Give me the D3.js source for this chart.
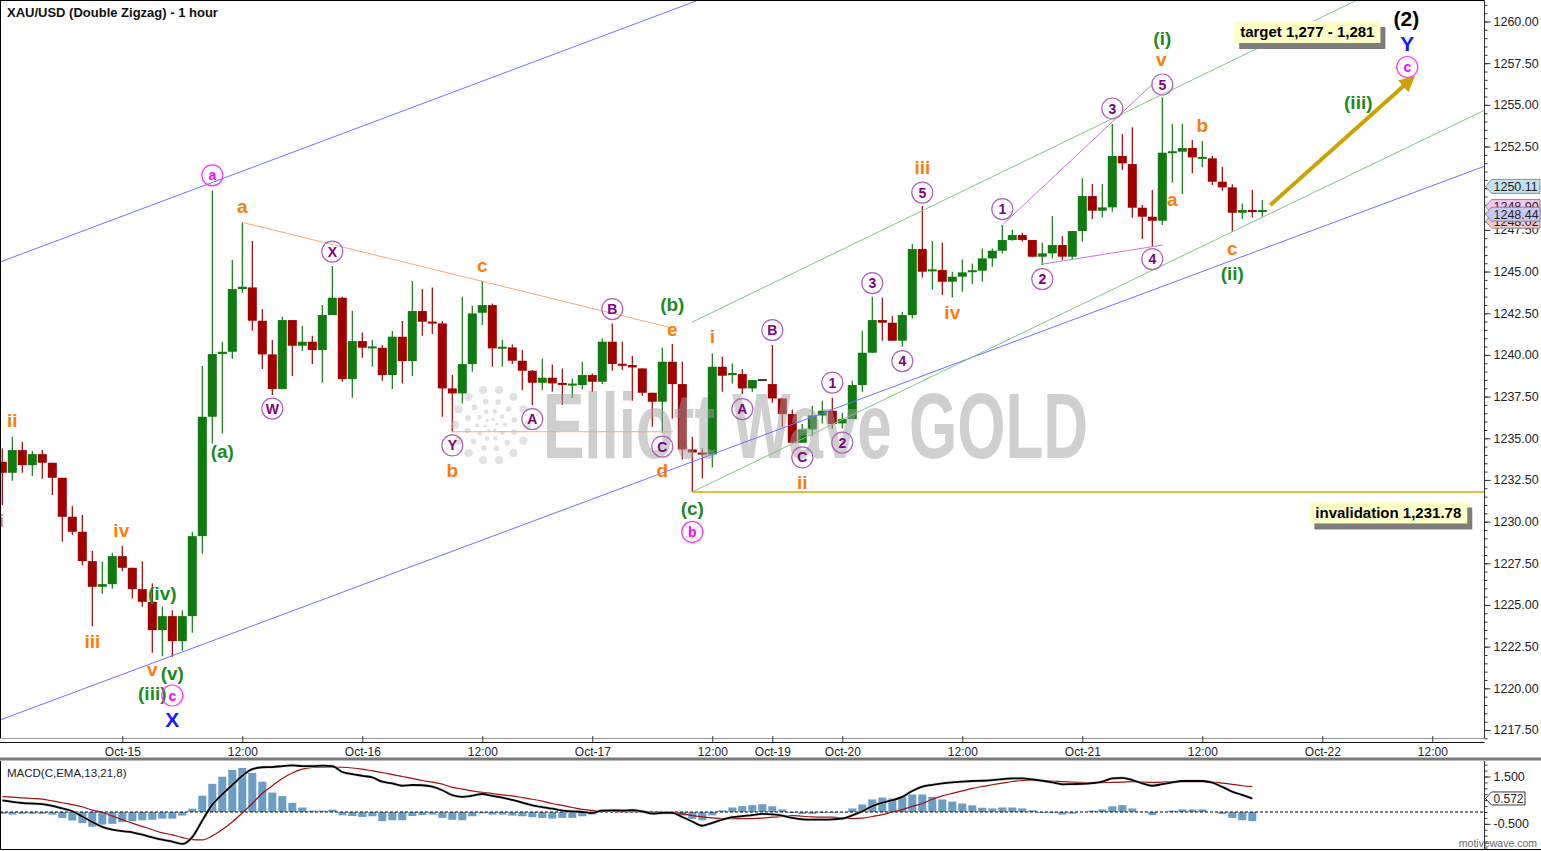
<!DOCTYPE html>
<html><head><meta charset="utf-8">
<script src="https://cdn.jsdelivr.net/npm/d3@7"></script>
<style>html,body{margin:0;padding:0;background:#fff;overflow:hidden}svg{display:block}</style>
</head><body>
<svg id="chart" width="1541" height="851"></svg>
<script>
// ---------------- DATA ----------------
const chartTitle = "XAU/USD (Double Zigzag) - 1 hour";
const openP = [1233.59,1232.93,1234.29,1233.39,1234.05,1233.53,1232.63,1230.29,1229.39,1227.63,
1226.09,1226.25,1227.93,1227.23,1225.95,1225.19,1223.49,1224.33,1222.83,1224.33,
1229.13,1236.29,1240.05,1240.19,1243.95,1244.05,1242.05,1240.03,1237.95,1242.09,
1240.55,1240.79,1240.29,1242.39,1243.43,1238.55,1240.83,1240.43,1240.43,1238.79,
1241.09,1239.63,1242.63,1241.99,1241.89,1237.99,1237.69,1239.45,1242.53,1242.99,
1240.39,1240.45,1239.65,1239.05,1238.33,1238.63,1238.29,1238.19,1238.19,1238.79,
1238.39,1240.79,1239.45,1239.39,1239.19,1237.73,1237.19,1239.59,1238.25,1234.33,
1234.13,1234.03,1239.29,1238.81,1238.85,1237.99,1238.49,1238.25,1237.39,1236.45,
1234.73,1235.53,1236.37,1236.65,1235.89,1236.15,1238.19,1240.13,1242.09,1241.93,
1240.85,1242.39,1246.35,1245.03,1245.09,1244.39,1244.69,1244.99,1245.05,1245.79,
1246.25,1246.89,1247.19,1246.89,1245.89,1246.09,1246.59,1245.89,1247.43,1249.53,
1248.65,1248.85,1251.93,1251.45,1248.83,1248.29,1248.05,1252.13,1252.19,1252.41,
1251.79,1251.79,1250.39,1250.05,1248.53,1248.69,1248.57];
const highP = [1234.39,1235.09,1234.77,1234.23,1234.29,1233.53,1232.63,1230.93,1230.39,1228.23,
1227.59,1228.13,1228.53,1227.23,1227.63,1226.30,1224.89,1224.69,1224.69,1229.39,
1239.33,1249.85,1240.79,1245.69,1247.95,1246.83,1242.75,1240.89,1242.29,1242.09,
1241.73,1241.15,1242.99,1245.33,1243.49,1242.63,1241.35,1240.89,1240.59,1241.43,
1242.03,1244.43,1243.95,1244.05,1242.03,1238.79,1243.49,1242.95,1244.45,1243.09,
1240.89,1240.63,1240.29,1239.09,1239.79,1239.43,1239.19,1238.59,1239.59,1238.89,
1240.99,1241.89,1240.79,1239.93,1239.19,1237.73,1240.45,1240.65,1239.59,1235.09,
1234.39,1240.09,1239.89,1239.49,1239.15,1238.49,1238.49,1240.59,1237.39,1236.73,
1235.85,1236.93,1237.25,1237.43,1236.53,1238.45,1241.43,1243.49,1243.43,1242.33,
1242.59,1246.65,1248.93,1246.83,1246.73,1244.99,1245.73,1245.49,1246.39,1246.39,
1247.79,1247.49,1247.33,1246.89,1246.73,1248.33,1247.13,1247.43,1250.59,1250.25,
1250.25,1253.85,1253.25,1253.65,1248.99,1249.89,1255.45,1253.85,1253.85,1252.89,
1252.83,1251.93,1251.29,1250.23,1249.09,1249.89,1249.29];
const lowP = [1230.99,1232.45,1232.93,1232.73,1232.57,1231.59,1228.79,1229.19,1227.39,1223.73,
1225.67,1225.97,1227.03,1225.39,1224.89,1222.13,1221.93,1221.89,1222.25,1223.33,
1228.09,1234.69,1235.29,1239.75,1243.73,1241.45,1239.15,1237.59,1237.95,1238.73,
1240.23,1239.45,1238.33,1242.39,1238.39,1237.43,1239.83,1239.29,1238.45,1237.95,
1238.29,1238.73,1241.15,1241.25,1236.29,1235.39,1237.09,1238.99,1241.79,1239.29,
1239.29,1239.45,1237.89,1236.99,1237.89,1237.79,1236.99,1237.43,1237.93,1237.79,
1238.25,1239.05,1239.09,1237.25,1237.53,1235.69,1235.33,1236.19,1233.73,1231.78,
1232.59,1233.25,1237.79,1238.29,1237.65,1237.79,1238.49,1237.13,1235.69,1234.73,
1234.73,1235.13,1235.89,1235.59,1235.59,1236.15,1237.79,1240.13,1240.85,1240.85,
1240.49,1242.19,1244.65,1243.93,1243.59,1243.45,1243.79,1244.25,1244.39,1245.29,
1246.09,1246.85,1246.79,1245.89,1245.39,1245.79,1245.69,1245.73,1246.79,1248.15,
1248.25,1248.59,1251.09,1248.23,1246.95,1246.53,1247.79,1250.33,1249.65,1250.89,
1251.25,1250.19,1249.85,1247.39,1248.15,1248.25,1248.29];
const closeP = [1232.93,1234.29,1233.39,1234.05,1233.53,1232.63,1230.29,1229.39,1227.63,1226.09,
1226.25,1227.93,1227.23,1225.95,1225.19,1223.49,1224.33,1222.83,1224.33,1229.13,
1236.29,1240.05,1240.19,1243.95,1244.09,1242.05,1240.03,1237.95,1242.09,1240.55,
1240.79,1240.29,1242.39,1243.43,1238.55,1240.83,1240.43,1240.47,1238.79,1241.09,
1239.63,1242.63,1241.99,1241.89,1237.99,1237.69,1239.45,1242.49,1242.99,1240.39,
1240.47,1239.65,1239.05,1238.33,1238.63,1238.29,1238.23,1238.25,1238.79,1238.39,
1240.79,1239.45,1239.37,1239.25,1237.73,1237.19,1239.59,1238.25,1234.33,1234.15,
1234.03,1239.29,1238.75,1238.89,1237.99,1238.49,1238.49,1237.39,1236.45,1234.73,
1235.53,1236.37,1236.65,1235.85,1236.15,1238.19,1240.13,1242.09,1241.93,1240.85,
1242.39,1246.35,1244.99,1245.11,1244.39,1244.69,1244.95,1245.05,1245.79,1246.25,
1246.89,1247.19,1246.89,1245.89,1246.09,1246.59,1245.89,1247.43,1249.53,1248.65,
1248.85,1251.93,1251.49,1248.83,1248.29,1248.05,1252.13,1252.19,1252.41,1251.85,
1251.85,1250.39,1250.05,1248.53,1248.69,1248.57,1248.69];

const macdLine = [0.49,0.43,0.38,0.36,0.33,0.26,0.15,0.03,-0.19,-0.42,
-0.63,-0.74,-0.81,-0.86,-0.96,-1.07,-1.17,-1.25,-1.35,-1.06,
-0.36,0.31,0.75,1.14,1.53,1.81,1.89,1.90,1.94,1.97,
1.94,1.94,1.96,1.94,1.69,1.60,1.53,1.46,1.28,1.21,
1.11,1.14,1.13,1.07,0.92,0.71,0.64,0.69,0.76,0.68,
0.61,0.51,0.40,0.28,0.21,0.14,0.06,0.03,0.00,-0.04,
0.06,0.07,0.06,0.08,0.03,-0.07,-0.04,-0.04,-0.21,-0.40,
-0.58,-0.46,-0.32,-0.22,-0.17,-0.13,-0.08,-0.10,-0.15,-0.25,
-0.31,-0.32,-0.32,-0.31,-0.28,-0.14,0.03,0.25,0.40,0.50,
0.64,0.89,1.07,1.15,1.21,1.25,1.28,1.31,1.32,1.35,
1.39,1.42,1.42,1.38,1.32,1.25,1.17,1.18,1.19,1.22,
1.28,1.42,1.44,1.35,1.21,1.11,1.18,1.25,1.31,1.31,
1.31,1.24,1.06,0.86,0.72,0.57];
const signalLine = [0.65,0.63,0.60,0.57,0.54,0.47,0.39,0.31,0.22,0.08,
-0.01,-0.17,-0.32,-0.47,-0.61,-0.75,-0.88,-0.97,-1.08,-1.17,
-1.18,-1.01,-0.74,-0.42,-0.04,0.36,0.79,1.11,1.42,1.65,
1.81,1.88,1.90,1.90,1.89,1.86,1.81,1.74,1.67,1.58,
1.50,1.42,1.33,1.26,1.18,1.04,0.97,0.89,0.83,0.78,
0.72,0.68,0.61,0.54,0.46,0.36,0.28,0.19,0.11,0.07,
0.03,0.03,0.01,0.01,0.01,0.00,0.00,0.00,-0.08,-0.15,
-0.21,-0.25,-0.28,-0.28,-0.28,-0.28,-0.26,-0.22,-0.19,-0.15,
-0.18,-0.21,-0.22,-0.22,-0.25,-0.28,-0.26,-0.19,-0.11,0.00,
0.10,0.24,0.36,0.54,0.68,0.79,0.89,1.00,1.08,1.15,
1.22,1.29,1.33,1.33,1.32,1.31,1.28,1.26,1.25,1.24,
1.24,1.25,1.26,1.28,1.26,1.25,1.26,1.28,1.28,1.28,
1.28,1.26,1.22,1.17,1.11,1.07];
const macdHist = [-0.08,-0.11,-0.08,-0.08,-0.08,-0.11,-0.25,-0.36,-0.47,-0.62,
-0.53,-0.50,-0.43,-0.39,-0.35,-0.33,-0.28,-0.28,-0.15,0.14,
0.69,1.19,1.49,1.78,1.86,1.65,1.28,0.82,0.67,0.39,
0.19,0.06,0.06,0.10,-0.14,-0.17,-0.21,-0.18,-0.39,-0.35,
-0.35,-0.17,-0.13,-0.11,-0.25,-0.33,-0.35,-0.18,-0.06,-0.11,
-0.11,-0.15,-0.18,-0.22,-0.25,-0.28,-0.25,-0.25,-0.18,-0.11,
0.10,0.11,0.11,0.09,0.06,-0.04,-0.07,-0.07,-0.15,-0.29,
-0.35,-0.14,0.07,0.19,0.25,0.29,0.33,0.24,0.11,-0.04,
-0.08,-0.08,-0.04,-0.04,-0.02,0.15,0.32,0.53,0.61,0.57,
0.64,0.74,0.74,0.64,0.53,0.44,0.36,0.28,0.18,0.15,
0.19,0.19,0.15,0.07,-0.04,-0.04,-0.11,-0.07,0.00,0.06,
0.11,0.24,0.29,0.15,0.01,-0.13,0.00,0.06,0.11,0.11,
0.11,0.00,-0.08,-0.25,-0.35,-0.39];

const timeTickIndex = [12,24,36,48,59,71,77,84,96,108,120,132,143];
const timeTickLabels = ["Oct-15","12:00","Oct-16","12:00","Oct-17","12:00","Oct-19","Oct-20","12:00","Oct-21","12:00","Oct-22","12:00"];
const priceTicks = [1217.5,1220,1222.5,1225,1227.5,1230,1232.5,1235,1237.5,1240,1242.5,1245,1247.5,1250,1252.5,1255,1257.5,1260];
const macdTicks = [1.5,-0.5];
const priceTags = [{v:1250.11,fill:"#c2e2f2"},{v:1248.90,fill:"#f6c6ee"},{v:1248.02,fill:"#f6c8c8"},{v:1248.44,fill:"#c8c8f6"}];
const macdTag = 0.572;

// annotation anchors in (bar index, price)
const orangeLabels = [
 {t:"ii",i:1,p:1236.09},{t:"i",i:-0.1,p:1230.10},{t:"iv",i:11.9,p:1229.50},{t:"iii",i:9,p:1222.84},
 {t:"v",i:15,p:1221.16},{t:"a",i:24,p:1248.93},{t:"c",i:48,p:1245.39},{t:"b",i:45,p:1233.10},
 {t:"d",i:66,p:1233.10},{t:"e",i:67,p:1241.55},{t:"i",i:71,p:1241.13},{t:"ii",i:80,p:1232.38},
 {t:"iii",i:92,p:1251.27},{t:"iv",i:95,p:1242.57},{t:"v",i:115.9,p:1257.75},{t:"a",i:117,p:1249.35},
 {t:"b",i:120,p:1253.79},{t:"c",i:123,p:1246.41}];
const greenLabels = [
 {t:"(ii)",i:-1.33,p:1236.63},{t:"(iv)",i:16,p:1225.72},{t:"(v)",i:17,p:1220.92},{t:"(iii)",i:15,p:1219.72},
 {t:"(a)",i:22,p:1234.24},{t:"(b)",i:67,p:1243.05},{t:"(c)",i:69,p:1230.82},{t:"(i)",i:116,p:1259.01},
 {t:"(ii)",i:123,p:1244.91},{t:"(iii)",i:135.6,p:1255.17}];
const purpleCircled = [
 {t:"W",i:27,p:1236.78},{t:"X",i:33,p:1246.20},{t:"Y",i:45,p:1234.57},{t:"A",i:53,p:1236.15},
 {t:"B",i:61,p:1242.75},{t:"C",i:66,p:1234.50},{t:"A",i:74,p:1236.75},{t:"B",i:77,p:1241.49},
 {t:"C",i:80,p:1233.85},{t:"1",i:83,p:1238.34},{t:"2",i:84,p:1234.74},{t:"3",i:87,p:1244.31},
 {t:"4",i:90,p:1239.63},{t:"5",i:92,p:1249.74},{t:"1",i:100,p:1248.75},{t:"2",i:104,p:1244.55},
 {t:"3",i:111,p:1254.78},{t:"4",i:115,p:1245.75},{t:"5",i:116,p:1256.22}];
const magentaCircled = [{t:"a",i:21,p:1250.77},{t:"c",i:17,p:1219.57},{t:"b",i:69,p:1229.38},{t:"c",i:140.5,p:1257.27}];
const blueLabels = [{t:"X",i:17,p:1218.13},{t:"Y",i:140.5,p:1258.71}];
const blackLabels = [{t:"(2)",i:140.4,p:1260.21}];
const noteBoxes = [{t:"target 1,277 - 1,281",i:130.5,p:1259.37},{t:"invalidation 1,231.78",i:138.6,p:1230.55}];

// lines in (bar index, price)
const channelLines = [
 {a:[-0.23,1218.10],b:[148.27,1251.33],c:"#6e6eff",w:1},
 {a:[-0.23,1245.57],b:[69.64,1261.29],c:"#6e6eff",w:1},
 {a:[69,1231.78],b:[148.27,1254.69],c:"#86c486",w:1},
 {a:[69,1241.97],b:[135.5,1261.29],c:"#86c486",w:1},
 {a:[69,1231.78],b:[148.27,1231.78],c:"#d4aa00",w:1.4},
 {a:[24,1247.95],b:[67.07,1241.60],c:"#f6a878",w:1},
 {a:[45,1235.39],b:[67.07,1235.39],c:"#f6a878",w:1},
 {a:[100.1,1247.85],b:[115.1,1256.29],c:"#c47ad0",w:1},
 {a:[104.04,1245.45],b:[116,1246.59],c:"#c47ad0",w:1}];
const arrowLine = {a:[126.8,1248.99],b:[140.8,1256.49]};

// ---------------- DRAW ----------------
const svg = d3.select("#chart");
const axisX = 1484.5, priceBottom = 738, macdTop = 761, macdBottom = 849;
const x = d3.scaleLinear().domain([0,148]).range([2.3,1482.3]);
const y = d3.scaleLinear().domain([1216.9,1261.29]).range([740,0]);
const ym = d3.scaleLinear().domain([-1.5,1.5]).range([847.5,776.5]);
const FONT = "Arial, 'Liberation Sans', sans-serif";
const UP = "#0f7a0f", DN = "#a00000";

svg.append("rect").attr("width",1541).attr("height",851).attr("fill","#fff");
const defs = svg.append("defs");
defs.append("clipPath").attr("id","cp").append("rect").attr("x",0).attr("y",0).attr("width",axisX).attr("height",priceBottom);
defs.append("clipPath").attr("id","cm").append("rect").attr("x",0).attr("y",macdTop).attr("width",axisX).attr("height",macdBottom-macdTop);
defs.append("marker").attr("id","arr").attr("viewBox","0 0 10 10").attr("refX",6).attr("refY",5)
  .attr("markerWidth",4).attr("markerHeight",4).attr("orient","auto")
  .append("path").attr("d","M0,0 L10,5 L0,10 z").attr("fill","#cda200");

const pg = svg.append("g").attr("clip-path","url(#cp)");
const bars = d3.range(openP.length);

// candles
const cg = pg.append("g");
bars.forEach(i=>{
  const o=openP[i],c=closeP[i],h=highP[i],l=lowP[i];
  const col = (o===c && h===l) ? "#333" : (c>=o ? UP : DN);
  const cx = x(i);
  cg.append("line").attr("x1",cx).attr("x2",cx).attr("y1",y(h)).attr("y2",y(l)).attr("stroke",col).attr("stroke-width",1.2);
  const raw=Math.abs(y(o)-y(c)), bh=Math.max(2,raw);
  const top=y(Math.max(o,c)) - (raw<2 ? (2-raw)/2 : 0);
  cg.append("rect").attr("x",cx-4.5).attr("width",9).attr("y",top).attr("height",bh).attr("fill",col);
});

// watermark
const wm = pg.append("g").attr("opacity",0.5);
wm.append("text").attr("x",543).attr("y",458).attr("font-family","'Liberation Sans Narrow', Arial, sans-serif")
  .attr("font-weight","bold").attr("font-size",92).attr("fill","#a0a0a0")
  .attr("textLength",545).attr("lengthAdjust","spacingAndGlyphs").text("Elliott Wave GOLD");
[[36,14,4.2],[24,12,2.8],[14,10,2.2],[6,6,1.6]].forEach(([r,n,s],k)=>{
  d3.range(n).forEach(j=>{
    const a = j/n*2*Math.PI + k*0.3;
    wm.append("circle").attr("cx",491+r*Math.cos(a)).attr("cy",425+r*Math.sin(a)).attr("r",s).attr("fill","#c4c4c4");
  });
});

// lines
channelLines.forEach(L=>{
  pg.append("line").attr("x1",x(L.a[0])).attr("y1",y(L.a[1])).attr("x2",x(L.b[0])).attr("y2",y(L.b[1]))
    .attr("stroke",L.c).attr("stroke-width",L.w);
});
pg.append("line").attr("x1",x(arrowLine.a[0])).attr("y1",y(arrowLine.a[1])).attr("x2",x(arrowLine.b[0])).attr("y2",y(arrowLine.b[1]))
  .attr("stroke","#cda200").attr("stroke-width",4).attr("marker-end","url(#arr)");

// labels
const lg = svg.append("g").attr("font-family",FONT).attr("font-weight","bold").attr("text-anchor","middle");
function plain(arr,color,size){
  arr.forEach(d=>lg.append("text").attr("x",x(d.i)).attr("y",y(d.p)).attr("dy","0.36em")
    .attr("font-size",size).attr("fill",color).text(d.t));
}
function circled(arr,color,stroke){
  arr.forEach(d=>{
    lg.append("circle").attr("cx",x(d.i)).attr("cy",y(d.p)).attr("r",10.5).attr("fill","none").attr("stroke",stroke).attr("stroke-width",1.2);
    lg.append("text").attr("x",x(d.i)).attr("y",y(d.p)).attr("dy","0.36em").attr("font-size",14).attr("fill",color).text(d.t);
  });
}
plain(orangeLabels,"#fa7d0a",19);
plain(greenLabels,"#1c8a1c",19);
circled(purpleCircled,"#800080","#b060b8");
circled(magentaCircled,"#ff00ff","#ff33ff");
plain(blueLabels,"#1a1aff",21);
plain(blackLabels,"#000",21);

// note boxes
noteBoxes.forEach(d=>{
  const g = svg.append("g");
  const t = g.append("text").attr("x",x(d.i)).attr("y",y(d.p)).attr("dy","0.36em").attr("text-anchor","middle")
    .attr("font-family",FONT).attr("font-weight","bold").attr("font-size",15).attr("fill","#000").text(d.t);
  const w = t.node().getComputedTextLength()+12, h=22;
  g.insert("rect","text").attr("x",x(d.i)-w/2+5).attr("y",y(d.p)-h/2+6).attr("width",w).attr("height",h).attr("fill","#7d7d7d");
  g.insert("rect","text").attr("x",x(d.i)-w/2).attr("y",y(d.p)-h/2).attr("width",w).attr("height",h).attr("fill","#ffffc8");
});

// title
svg.append("text").attr("x",7).attr("y",17).attr("font-family",FONT).attr("font-weight","bold").attr("font-size",13).attr("fill","#111").text(chartTitle);

// price panel borders
svg.append("line").attr("x1",0.5).attr("x2",0.5).attr("y1",0).attr("y2",priceBottom).attr("stroke","#000");
svg.append("line").attr("x1",0).attr("x2",axisX).attr("y1",0.5).attr("y2",0.5).attr("stroke","#000");
svg.append("line").attr("x1",0).attr("x2",axisX).attr("y1",priceBottom+0.5).attr("y2",priceBottom+0.5).attr("stroke","#999");

// price axis
const minor = d3.range(1217,1261.01,0.5);
svg.append("g").attr("transform",`translate(${axisX},0)`)
  .call(d3.axisRight(y).tickValues(minor).tickSize(3).tickFormat("").tickSizeOuter(0))
  .call(g=>g.select(".domain").remove()).selectAll("line").attr("stroke","#333");
const pa = svg.append("g").attr("transform",`translate(${axisX},0)`)
  .call(d3.axisRight(y).tickValues(priceTicks).tickSize(6).tickPadding(3).tickFormat(d=>d.toFixed(2)).tickSizeOuter(0));
pa.select(".domain").attr("stroke","#333").attr("d",`M0,0V${priceBottom}`);
pa.selectAll("line").attr("stroke","#333");
pa.selectAll("text").attr("font-family",FONT).attr("font-size",12.5).attr("fill","#222");

// price tags
priceTags.forEach(d=>{
  const yc=y(d.v), x0=axisX+1, x1=1540;
  svg.append("path").attr("d",`M${x0},${yc} L${x0+6},${yc-7} L${x1},${yc-7} L${x1},${yc+7} L${x0+6},${yc+7} Z`)
    .attr("fill",d.fill).attr("stroke","#777").attr("stroke-width",0.8);
  svg.append("text").attr("x",x0+8).attr("y",yc).attr("dy","0.36em").attr("font-family",FONT).attr("font-size",12.5).attr("fill","#222").text(d.v.toFixed(2));
});

// time axis
svg.append("line").attr("x1",0).attr("x2",axisX).attr("y1",742.5).attr("y2",742.5).attr("stroke","#111").attr("stroke-width",1.2);
const ta = svg.append("g").attr("transform","translate(0,736)")
  .call(d3.axisBottom(x).tickValues(timeTickIndex).tickSize(6.5).tickPadding(5).tickFormat((d,k)=>timeTickLabels[k]).tickSizeOuter(0));
ta.select(".domain").remove();
ta.selectAll("line").attr("stroke","#333");
ta.selectAll("text").attr("font-family","'Liberation Sans Narrow', Arial, sans-serif").attr("font-size",12).attr("fill","#222");
svg.append("rect").attr("x",0).attr("y",757.5).attr("width",1541).attr("height",3).attr("fill","#7a7a7a");

// MACD panel
const mg = svg.append("g").attr("clip-path","url(#cm)");
const hb = d3.range(macdHist.length);
mg.selectAll("rect.h").data(hb).join("rect").attr("class","h")
  .attr("x",i=>x(i)-4).attr("width",8)
  .attr("y",i=>Math.min(ym(0),ym(macdHist[i]))).attr("height",i=>Math.abs(ym(macdHist[i])-ym(0)))
  .attr("fill","#6b9dc7");
mg.append("line").attr("x1",0).attr("x2",axisX).attr("y1",ym(0)).attr("y2",ym(0)).attr("stroke","#000").attr("stroke-dasharray","3,2");
const lineGen = arr => d3.line().x((d,i)=>x(i)).y(d=>ym(d)).curve(d3.curveMonotoneX)(arr);
mg.append("path").attr("d",lineGen(signalLine)).attr("fill","none").attr("stroke","#a01010").attr("stroke-width",1.2);
mg.append("path").attr("d",lineGen(macdLine)).attr("fill","none").attr("stroke","#c8c8c8").attr("stroke-width",3.2).attr("opacity",0.6);
mg.append("path").attr("d",lineGen(macdLine)).attr("fill","none").attr("stroke","#000").attr("stroke-width",1.8);
svg.append("text").attr("x",7).attr("y",777).attr("font-family",FONT).attr("font-size",11.5).attr("fill","#222").text("MACD(C,EMA,13,21,8)");
svg.append("line").attr("x1",0.5).attr("x2",0.5).attr("y1",macdTop).attr("y2",macdBottom).attr("stroke","#000");
svg.append("line").attr("x1",0).attr("x2",1541).attr("y1",macdBottom+0.5).attr("y2",macdBottom+0.5).attr("stroke","#000");

svg.append("g").attr("transform",`translate(${axisX},0)`)
  .call(d3.axisRight(ym).tickValues(d3.range(-1.5,2.01,0.25)).tickSize(3).tickFormat("").tickSizeOuter(0))
  .call(g=>g.select(".domain").remove()).selectAll("line").attr("stroke","#333");
const ma = svg.append("g").attr("transform",`translate(${axisX},0)`)
  .call(d3.axisRight(ym).tickValues(macdTicks).tickSize(6).tickPadding(3).tickFormat(d=>d.toFixed(3)).tickSizeOuter(0));
ma.select(".domain").attr("stroke","#333").attr("d",`M0,${macdTop}V${macdBottom}`);
ma.selectAll("line").attr("stroke","#333");
ma.selectAll("text").attr("font-family",FONT).attr("font-size",12.5).attr("fill","#222");
{
  const yc=ym(macdTag), x0=axisX+1, x1=1525;
  svg.append("path").attr("d",`M${x0},${yc} L${x0+6},${yc-6.5} L${x1},${yc-6.5} L${x1},${yc+6.5} L${x0+6},${yc+6.5} Z`)
    .attr("fill","#fff").attr("stroke","#222").attr("stroke-width",0.9);
  svg.append("text").attr("x",x0+8).attr("y",yc).attr("dy","0.36em").attr("font-family",FONT).attr("font-size",12).attr("fill","#222").text(macdTag.toFixed(3));
}
svg.append("text").attr("x",1537).attr("y",847).attr("text-anchor","end").attr("font-family","'Liberation Sans Narrow', Arial, sans-serif").attr("font-size",10.5).attr("fill","#666").text("motivewave.com");
</script>
</body></html>
